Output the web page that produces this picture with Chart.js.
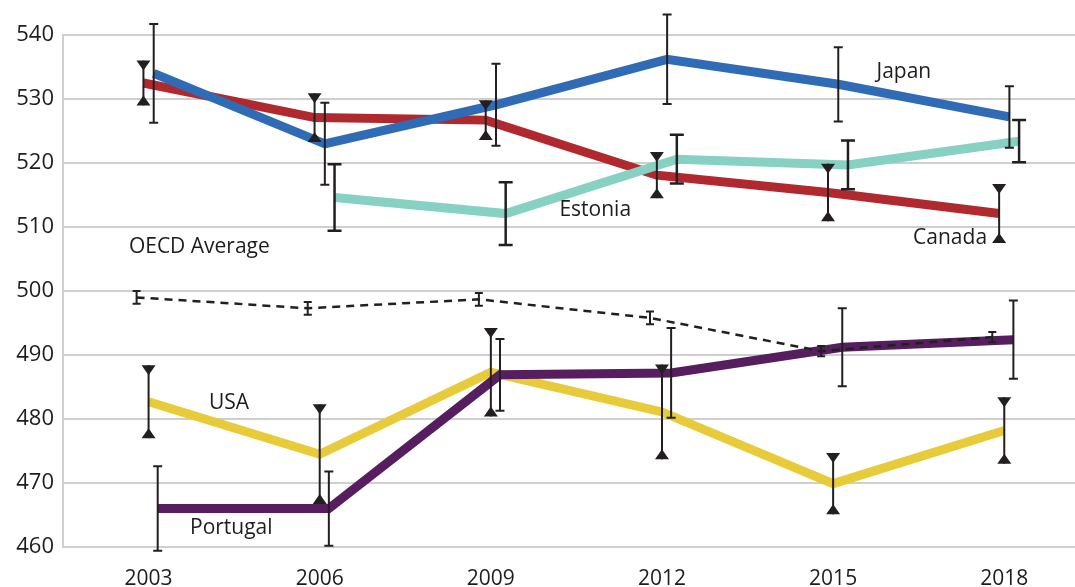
<!DOCTYPE html>
<html lang="en">
<head>
    <meta charset="UTF-8">
    <title>PISA Mathematics 2003-2018</title>
    <script src="https://cdn.jsdelivr.net/npm/chart.js"></script>
    <style>
        body { margin: 0; background: #fff; }
        .chart-box { width: 1075px; height: 587px; position: relative; }
    </style>
</head>
<body>
    <div class="chart-box">
        <canvas id="scoreChart"></canvas>
    </div>

    <script>
        const years = [2003, 2006, 2009, 2012, 2015, 2018];
        const yTicks = [460, 470, 480, 490, 500, 510, 520, 530, 540];

        const japan = [534.0, 523.0, 529.1, 536.2, 532.3, 527.2];
        const japanErr = [7.7, 6.4, 6.4, 7.0, 5.8, 4.8];
        const canada = [532.5, 527.1, 526.7, 518.1, 515.4, 512.1];
        const canadaErr = [3.5, 3.8, 3.1, 3.6, 4.5, 4.6];
        const estonia = [null, 514.6, 512.1, 520.6, 519.7, 523.4];
        const estoniaErr = [null, 5.2, 4.9, 3.8, 3.8, 3.3];
        const oecd = [499.0, 497.3, 498.7, 495.8, 490.6, 492.8];
        const oecdErr = [1.0, 1.0, 1.0, 1.0, 0.8, 0.8];
        const usa = [482.7, 474.5, 487.3, 481.1, 469.9, 478.2];
        const usaErr = [5.7, 7.8, 6.9, 7.4, 4.8, 5.2];
        const portugal = [466.0, 466.0, 486.9, 487.2, 491.2, 492.4];
        const portugalErr = [6.6, 5.8, 5.6, 7.0, 6.1, 6.1];

        const textColor = '#1f1c1d';
        const fontFamily = '"Open Sans", sans-serif';

        // small horizontal dodge (in years) so the error bars don't sit on top of each other
        function points(values, shift) {
            const out = [];
            values.forEach((v, i) => {
                if (v !== null) out.push({ x: years[i] + shift, y: v });
            });
            return out;
        }
        function errs(values) {
            return values.filter(v => v !== null);
        }

        function makeSet(label, values, errors, shift, color, width, barStyle, order) {
            return {
                label: label,
                data: points(values, shift),
                errors: errs(errors),
                barStyle: barStyle,
                borderColor: color,
                borderWidth: width,
                borderCapStyle: 'butt',
                borderJoinStyle: 'miter',
                pointRadius: 0,
                tension: 0,
                fill: false,
                order: order
            };
        }

        const datasets = [
            makeSet('OECD Average', oecd, oecdErr, -0.21, '#231f20', 2.5, { cap: 8, lw: 2 }, 0),
            makeSet('Portugal', portugal, portugalErr, 0.16, '#561e5e', 9, { cap: 9, lw: 2 }, 1),
            makeSet('USA', usa, usaErr, 0.0, '#e8cb3b', 9, { tri: true, lw: 2 }, 2),
            makeSet('Estonia', estonia, estoniaErr, 0.26, '#87d1c3', 9, { cap: 14, lw: 2.5 }, 3),
            makeSet('Japan', japan, japanErr, 0.09, '#2f6cb5', 9, { cap: 9, lw: 2 }, 4),
            makeSet('Canada', canada, canadaErr, -0.09, '#b0292f', 9, { tri: true, lw: 2 }, 5)
        ];
        datasets[0].borderDash = [8, 6];

        const seriesLabels = [
            { text: 'Japan', x: 2016.24, y: 534.2 },
            { text: 'Estonia', x: 2010.83, y: 512.7 },
            { text: 'Canada', x: 2017.05, y: 508.3 },
            { text: 'OECD Average', x: 2003.89, y: 506.9 },
            { text: 'USA', x: 2004.41, y: 482.5 },
            { text: 'Portugal', x: 2004.45, y: 462.9 }
        ];

        const errorBars = {
            id: 'errorBars',
            afterDatasetsDraw(chart) {
                const ctx = chart.ctx;
                const xs = chart.scales.x, ys = chart.scales.y;
                ctx.save();
                ctx.strokeStyle = '#231f20';
                ctx.fillStyle = '#231f20';
                chart.data.datasets.forEach(ds => {
                    ds.data.forEach((p, i) => {
                        const e = ds.errors[i];
                        const px = xs.getPixelForValue(p.x);
                        const top = ys.getPixelForValue(p.y + e);
                        const bot = ys.getPixelForValue(p.y - e);
                        const st = ds.barStyle;
                        ctx.lineWidth = st.lw;
                        ctx.beginPath();
                        ctx.moveTo(px, top);
                        ctx.lineTo(px, bot);
                        ctx.stroke();
                        if (st.tri) {
                            const w = 7, h = 10;
                            ctx.beginPath();
                            ctx.moveTo(px - w, top);
                            ctx.lineTo(px + w, top);
                            ctx.lineTo(px, top + h);
                            ctx.closePath();
                            ctx.fill();
                            ctx.beginPath();
                            ctx.moveTo(px - w, bot);
                            ctx.lineTo(px + w, bot);
                            ctx.lineTo(px, bot - h);
                            ctx.closePath();
                            ctx.fill();
                        } else {
                            const c = st.cap / 2;
                            ctx.beginPath();
                            ctx.moveTo(px - c, top);
                            ctx.lineTo(px + c, top);
                            ctx.moveTo(px - c, bot);
                            ctx.lineTo(px + c, bot);
                            ctx.stroke();
                        }
                    });
                });
                ctx.restore();
            }
        };

        const nameLabels = {
            id: 'nameLabels',
            afterDatasetsDraw(chart) {
                const ctx = chart.ctx;
                const xs = chart.scales.x, ys = chart.scales.y;
                ctx.save();
                ctx.font = '21px ' + fontFamily;
                ctx.fillStyle = textColor;
                ctx.textAlign = 'center';
                ctx.textBaseline = 'middle';
                seriesLabels.forEach(l => {
                    ctx.fillText(l.text, xs.getPixelForValue(l.x), ys.getPixelForValue(l.y));
                });
                ctx.restore();
            }
        };

        new Chart(document.getElementById('scoreChart'), {
            type: 'line',
            data: { datasets: datasets },
            options: {
                responsive: true,
                maintainAspectRatio: false,
                animation: false,
                layout: { padding: { top: 35, right: 0, left: 0, bottom: 0 } },
                plugins: {
                    legend: { display: false },
                    tooltip: { enabled: false }
                },
                scales: {
                    x: {
                        type: 'linear',
                        min: 2001.5,
                        max: 2019.24,
                        afterBuildTicks: s => { s.ticks = years.map(v => ({ value: v })); },
                        afterFit: s => { s.height = 40; },
                        grid: { display: false },
                        border: { display: false },
                        ticks: {
                            callback: v => String(v),
                            color: textColor,
                            padding: 11,
                            maxRotation: 0,
                            font: { family: fontFamily, size: 21 }
                        }
                    },
                    y: {
                        min: 460,
                        max: 540,
                        afterBuildTicks: s => { s.ticks = yTicks.map(v => ({ value: v })); },
                        afterFit: s => { s.width = 63; },
                        grid: { color: '#cfcfcf', lineWidth: 2, drawTicks: false },
                        border: { display: true, color: '#cfcfcf', width: 2 },
                        ticks: {
                            color: textColor,
                            padding: 9,
                            font: { family: fontFamily, size: 22 }
                        }
                    }
                }
            },
            plugins: [errorBars, nameLabels]
        });
    </script>
</body>
</html>
